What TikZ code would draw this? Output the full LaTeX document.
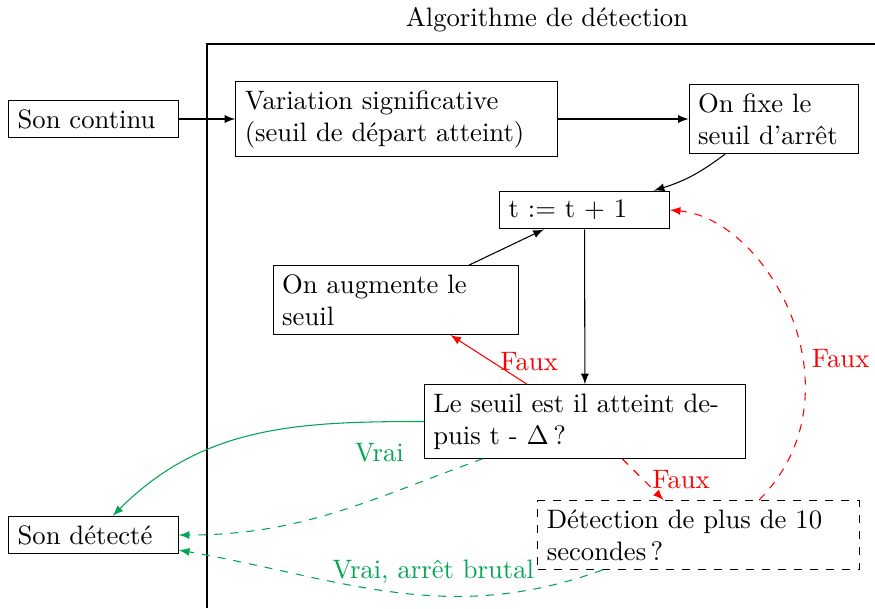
\documentclass[tikz,border=0pt]{standalone}
\usetikzlibrary{arrows}
\definecolor{vgreen}{RGB}{0,166,81}
\begin{document}
\begin{tikzpicture}[x=0.375pt,y=-0.375pt,
  box/.style={draw, align=left, inner sep=3.33pt},
  small/.style={box, text width=2cm},
  large/.style={box, text width=4cm},
  mid/.style={box, text width=3cm},
  arr/.style={-latex}]
\useasboundingbox (0,0) rectangle (875,608);
% frame
\draw[line width=0.8pt] (207,608) coordinate (fb) -- (207,44) coordinate (ftl) -- (876,44) coordinate (fr);
\node (title) at (547,20) {Algorithme de détection};
% nodes
\node[small] (cont) at (93.5,119) {Son continu};
\node[large] (var) at (396.5,119) {Variation significative (seuil de départ atteint)};
\node[small] (fixe) at (774,119) {On fixe le seuil d'arrêt};
\node[small] (t) at (584.5,210) {t $:=$ t $+$ 1};
\node[mid] (aug) at (396,300) {On augmente le seuil};
\node[large] (seuil) at (585,421.5) {Le seuil est il atteint de\-puis t - $\Delta$\,?};
\node[small] (det) at (93.5,535) {Son détecté};
\node[large, dashed] (dix) at (698.5,535) {Détection de plus de 10 secondes\,?};
% connectors
\draw[arr] (cont) -- (var);
\draw[arr] (var) -- (fixe);
\draw[arr] (fixe) to[bend left=10] (t);
\draw[arr] (t) -- (seuil);
\draw[arr] (aug) -- (t);
\draw[arr, red] (seuil) -- node[right, pos=0.47] {Faux} (aug);
\draw[arr, red, dashed] (seuil) -- node[right] {Faux} (dix);
\draw[arr, red, dashed] (dix.30) to[out=45, in=-5, out distance=56pt, in distance=37.5pt] node[right, pos=0.39] {Faux} (t.east);
\draw[arr, vgreen] (seuil.west) to[out=180, in=45] node[below=4.5pt, pos=0.12] {Vrai} (det);
\draw[arr, vgreen, dashed] (seuil) to[out=200, in=0] (det.east);
\draw[arr, vgreen, dashed] (dix) to[out=200, in=-10] node[above=1pt, pos=0.4] {Vrai, arrêt brutal} (det);
\end{tikzpicture}
\end{document}
